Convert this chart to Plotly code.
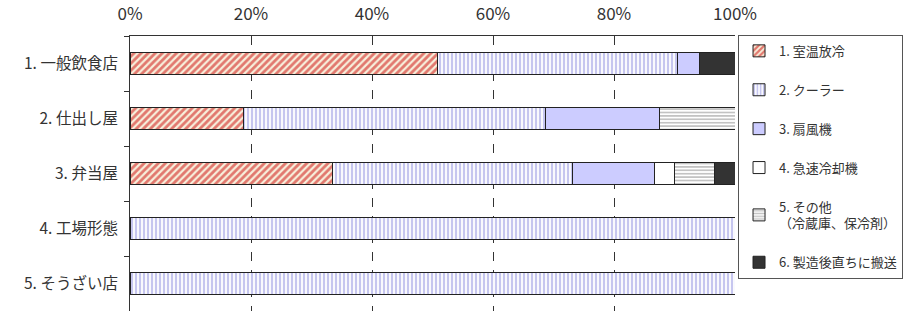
import plotly.graph_objects as go

categories = ["1. 一般飲食店", "2. 仕出し屋", "3. 弁当屋", "4. 工場形態", "5. そうざい店"]
series_names = ["1. 室温放冷", "2. クーラー", "3. 扇風機", "4. 急速冷却機",
                "5. その他<br>（冷蔵庫、保冷剤）", "6. 製造後直ちに搬送"]
values = {
    "1. 室温放冷":        [50.8, 18.7, 33.4, 0, 0],
    "2. クーラー":        [39.7, 50.0, 39.8, 100, 100],
    "3. 扇風機":          [3.7, 18.9, 13.5, 0, 0],
    "4. 急速冷却機":      [0, 0, 3.3, 0, 0],
    "5. その他":          [0, 12.4, 6.6, 0, 0],
    "6. 製造後直ちに搬送": [5.8, 0, 3.4, 0, 0],
}
tick_vals = [0, 20, 40, 60, 80, 100]

styles = [
    dict(color="#f7f0dc", pattern=dict(shape="/", fgcolor="#cc0000", bgcolor="#f7f0dc", size=5, solidity=0.55)),
    dict(color="#ffffff", pattern=dict(shape="|", fgcolor="#8e8ee0", bgcolor="#ffffff", size=4, solidity=0.55)),
    dict(color="#ccccff"),
    dict(color="#ffffff"),
    dict(color="#ffffff", pattern=dict(shape="-", fgcolor="#888888", bgcolor="#ffffff", size=3.4, solidity=0.5)),
    dict(color="#333333"),
]

FONT = "Noto Sans CJK JP"
fig = go.Figure()
keys = list(values.keys())
for i, (k, name) in enumerate(zip(keys, series_names)):
    st = styles[i]
    marker = dict(color=st["color"], line=dict(color="#222222", width=1))
    if "pattern" in st:
        marker["pattern"] = st["pattern"]
    fig.add_trace(go.Bar(
        y=categories, x=values[k], name=name, orientation="h",
        marker=marker, width=0.4, legendgroup=f"g{i}",
    ))

fig.update_layout(
    barmode="stack",
    width=917, height=313,
    margin=dict(l=130, r=182, t=36, b=2),
    paper_bgcolor="white", plot_bgcolor="white",
    font=dict(family=FONT, size=15, color="#333333"),
    legend=dict(
        x=1.005, xanchor="left", y=1.004, yanchor="top",
        bordercolor="#555555", borderwidth=1,
        font=dict(family=FONT, size=13, color="#333333"),
        tracegroupgap=19, traceorder="grouped",
        itemwidth=30, maxheight=300,
    ),
    xaxis=dict(
        side="top", range=[0, 100], tickvals=tick_vals,
        ticktext=[f"{v}%" for v in tick_vals],
        showgrid=True, gridcolor="#333333", griddash="dash", gridwidth=1,
        showline=True, linecolor="#333333", linewidth=1,
        zeroline=False, ticks="", ticklabelstandoff=8, automargin=False,
        tickfont=dict(family=FONT, size=17, color="#333333"),
    ),
    yaxis=dict(
        autorange="reversed", showline=True, linecolor="#333333", linewidth=1,
        ticks="outside", tickson="boundaries", ticklen=5, tickcolor="#333333",
        showgrid=False, ticklabelstandoff=8, automargin=False,
        tickfont=dict(family=FONT, size=15.5, color="#333333"),
    ),
)

fig.write_html("out.html", post_script="document.body.style.margin='0';",
               config={"displayModeBar": False})
